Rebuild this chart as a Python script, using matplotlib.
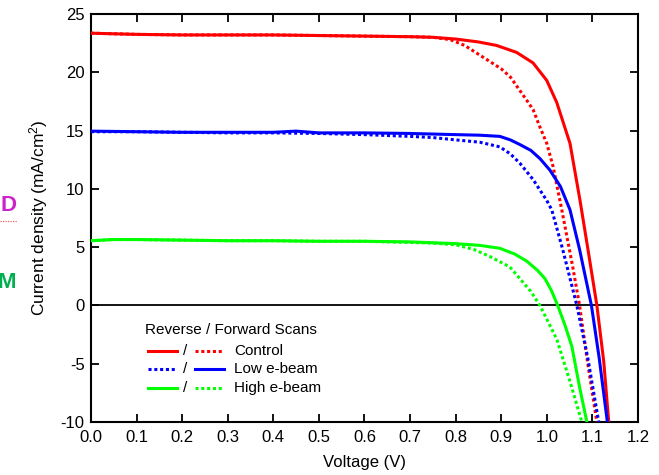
import matplotlib
matplotlib.use("Agg")
import matplotlib.pyplot as plt
from matplotlib.lines import Line2D

plt.rcParams['font.family'] = ['Liberation Sans', 'DejaVu Sans']
plt.rcParams['mathtext.default'] = 'regular'
plt.rcParams['axes.unicode_minus'] = False

# Control (red): reverse = solid, forward = dotted
v_ctrl_rev = [0, 0.05, 0.1, 0.2, 0.3, 0.4, 0.5, 0.6, 0.7, 0.75, 0.8, 0.85, 0.89, 0.934,
              0.97, 1.0, 1.022, 1.051, 1.073, 1.09, 1.11, 1.125, 1.136]
j_ctrl_rev = [23.35, 23.3, 23.25, 23.2, 23.2, 23.2, 23.15, 23.1, 23.05, 23.0, 22.85, 22.6, 22.3, 21.7,
              20.8, 19.3, 17.4, 13.9, 9.0, 4.9, 0.0, -4.8, -10.0]
v_ctrl_fwd = [0, 0.05, 0.1, 0.2, 0.3, 0.4, 0.5, 0.6, 0.7, 0.75, 0.788, 0.82, 0.86, 0.9,
              0.92, 0.956, 0.97, 0.985, 1.0, 1.014, 1.033, 1.057, 1.072, 1.09, 1.11]
j_ctrl_fwd = [23.35, 23.3, 23.25, 23.2, 23.2, 23.2, 23.15, 23.1, 23.05, 23.0, 22.8, 22.3, 21.3, 20.3,
              19.6, 17.6, 16.8, 15.3, 13.9, 11.9, 8.2, 3.3, 0.0, -5.0, -10.0]

# Low e-beam (blue): reverse = dotted, forward = solid
v_low_fwd = [0, 0.1, 0.2, 0.3, 0.4, 0.45, 0.5, 0.6, 0.7, 0.8, 0.853, 0.897, 0.92, 0.941,
             0.965, 0.985, 1.007, 1.03, 1.051, 1.072, 1.098, 1.115, 1.133]
j_low_fwd = [14.95, 14.9, 14.85, 14.85, 14.85, 14.95, 14.8, 14.8, 14.75, 14.65, 14.6, 14.5, 14.2, 13.8,
             13.3, 12.6, 11.6, 10.2, 8.2, 4.8, 0.0, -4.5, -10.0]
v_low_rev = [0, 0.1, 0.2, 0.3, 0.4, 0.5, 0.6, 0.7, 0.75, 0.8, 0.853, 0.897, 0.92, 0.941,
             0.97, 1.0, 1.011, 1.035, 1.066, 1.09, 1.114]
j_low_rev = [14.9, 14.9, 14.85, 14.8, 14.8, 14.75, 14.65, 14.5, 14.4, 14.2, 14.0, 13.6, 13.0, 12.2,
             10.8, 9.0, 8.2, 4.8, 0.0, -4.5, -10.0]

# High e-beam (green): reverse = solid, forward = dotted
v_high_rev = [0, 0.05, 0.1, 0.2, 0.3, 0.4, 0.5, 0.6, 0.7, 0.8, 0.853, 0.897, 0.93, 0.956,
              0.98, 0.996, 1.01, 1.024, 1.04, 1.055, 1.072, 1.088]
j_high_rev = [5.55, 5.65, 5.65, 5.6, 5.55, 5.55, 5.5, 5.5, 5.45, 5.3, 5.15, 4.9, 4.4, 3.8,
              3.0, 2.3, 1.3, 0.0, -1.7, -3.5, -7.0, -10.0]
v_high_fwd = [0, 0.05, 0.1, 0.2, 0.3, 0.4, 0.5, 0.6, 0.65, 0.7, 0.75, 0.8, 0.84, 0.875,
              0.919, 0.941, 0.965, 0.985, 1.022, 1.05, 1.077]
j_high_fwd = [5.55, 5.65, 5.65, 5.6, 5.55, 5.55, 5.5, 5.5, 5.45, 5.4, 5.35, 5.2, 4.8, 4.2,
              3.3, 2.3, 1.2, 0.0, -2.9, -6.4, -10.0]

x_ticks = [0.0, 0.1, 0.2, 0.3, 0.4, 0.5, 0.6, 0.7, 0.8, 0.9, 1.0, 1.1, 1.2]
y_ticks = [-10, -5, 0, 5, 10, 15, 20, 25]

RED, BLUE, GREEN = '#ff0000', '#0000ff', '#00ff00'
dot = (0, (1, 0.9))
lw = 2.2

fig = plt.figure(figsize=(6.59, 4.75), dpi=100)
ax = fig.add_axes([0.138, 0.1116, 0.830, 0.859])

ax.axhline(0, color='black', lw=1.3, zorder=1)
ax.plot(v_ctrl_rev, j_ctrl_rev, color=RED, lw=lw, zorder=3)
ax.plot(v_ctrl_fwd, j_ctrl_fwd, color=RED, lw=lw, ls=dot, zorder=3)
ax.plot(v_low_fwd, j_low_fwd, color=BLUE, lw=lw, zorder=3)
ax.plot(v_low_rev, j_low_rev, color=BLUE, lw=lw, ls=dot, zorder=3)
ax.plot(v_high_rev, j_high_rev, color=GREEN, lw=lw, zorder=3)
ax.plot(v_high_fwd, j_high_fwd, color=GREEN, lw=lw, ls=dot, zorder=3)

ax.set_xlim(0, 1.2)
ax.set_ylim(-10, 25)
ax.set_xticks(x_ticks)
ax.set_xticklabels([f"{t:.1f}" for t in x_ticks])
ax.set_yticks(y_ticks)
ax.tick_params(direction='in', length=6, width=1.3, top=True, right=True, labelsize=12)
ax.tick_params(axis='x', pad=6)
ax.tick_params(axis='y', pad=4.5)
for s in ax.spines.values():
    s.set_linewidth(1.5)

ax.set_xlabel('Voltage (V)', fontsize=12, labelpad=7)
ax.set_ylabel('Current density (mA/cm$^{2}$)', fontsize=12.5, labelpad=8)

# hand-made legend (reverse / forward pairs)
tr = ax.transAxes
ax.text(0.098, 0.225, 'Reverse / Forward Scans', transform=tr, fontsize=11, va='center')
rows = [(RED, '-', dot, 'Control'),
        (BLUE, dot, '-', 'Low e-beam'),
        (GREEN, '-', dot, 'High e-beam')]
for i, (c, ls1, ls2, lab) in enumerate(rows):
    yy = 0.175 - i * 0.0455
    ax.plot([0.104, 0.157], [yy, yy], color=c, ls=ls1, lw=lw, transform=tr, clip_on=False)
    ax.text(0.172, yy, '/', transform=tr, fontsize=11, va='center', ha='center')
    ax.plot([0.19, 0.243], [yy, yy], color=c, ls=ls2, lw=lw, transform=tr, clip_on=False)
    ax.text(0.262, yy, lab, transform=tr, fontsize=11, va='center')

# cropped slide fragments at left edge
fig.text(0.0, 0.567, 'D', color='#cc22cc', fontsize=16, fontweight='bold', va='center')
fig.add_artist(Line2D([0.0, 0.026], [0.535, 0.535], transform=fig.transFigure,
                      color='#ee6666', lw=0.9, ls=(0, (1, 1))))
fig.text(-0.004, 0.405, 'M', color='#00b050', fontsize=16, fontweight='bold', va='center')

fig.savefig('out.png', dpi=100)
